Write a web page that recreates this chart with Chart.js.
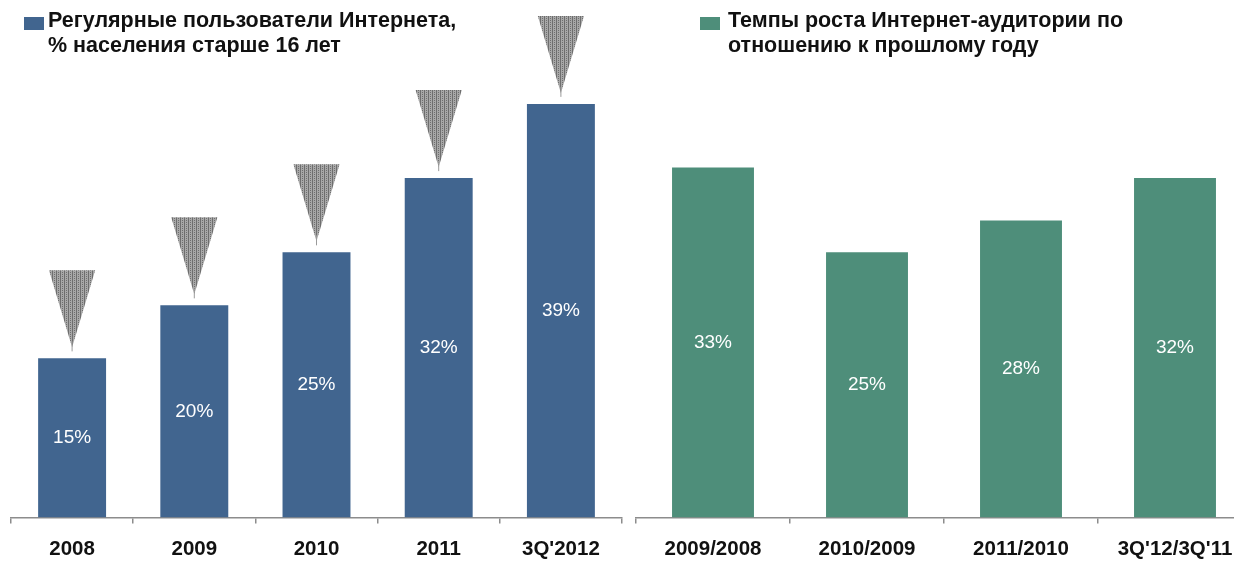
<!DOCTYPE html>
<html>
<head>
<meta charset="utf-8">
<script src="https://cdn.jsdelivr.net/npm/chart.js@4"></script>
<style>
    html, body { margin: 0; padding: 0; background: #fff; overflow: hidden; }
    body { width: 1234px; height: 562px; position: relative; font-family: "Liberation Sans", Arial, sans-serif; }
    .box { position: absolute; top: 0; height: 562px; }
    .legend { position: absolute; font-weight: bold; font-size: 21.5px; line-height: 25px; color: #111; white-space: nowrap; }
    .swatch { position: absolute; width: 20px; height: 13px; }
</style>
</head>
<body>
<div class="box" style="left:0;width:630px"><canvas id="usersChart" width="630" height="562"></canvas></div>
<div class="box" style="left:628px;width:630px"><canvas id="growthChart" width="630" height="562"></canvas></div>

<div class="swatch" style="left:24px;top:17px;background:#41658f"></div>
<div class="legend" style="left:48px;top:8px">Регулярные пользователи Интернета,<br>% населения старше 16 лет</div>
<div class="swatch" style="left:700px;top:17px;background:#4e8e7a"></div>
<div class="legend" style="left:728px;top:8px">Темпы роста Интернет-аудитории по<br>отношению к прошлому году</div>

<script>
const usersLabels = ["2008", "2009", "2010", "2011", "3Q'2012"];
const usersValues = [15, 20, 25, 32, 39];
const growthLabels = ["2009/2008", "2010/2009", "2011/2010", "3Q'12/3Q'11"];
const growthValues = [33, 25, 28, 32];

const blue = "#41658f";
const green = "#4e8e7a";
const axisGrey = "#8c8c8c";

// dotted grey fill for the arrows above the bars
function makeDotPattern(ctx) {
    const p = document.createElement("canvas");
    p.width = 4;
    p.height = 2;
    const pc = p.getContext("2d");
    pc.fillStyle = "#a8a8a8";
    pc.fillRect(0, 0, 4, 2);
    pc.fillStyle = "#6e6e6e";
    pc.fillRect(0, 0, 1, 2);
    pc.fillRect(2, 0, 1, 1);
    return ctx.createPattern(p, "repeat");
}

const valueLabels = {
    id: "valueLabels",
    afterDatasetsDraw(chart) {
        const ctx = chart.ctx;
        const meta = chart.getDatasetMeta(0);
        ctx.save();
        ctx.fillStyle = "#ffffff";
        ctx.font = "19px 'Liberation Sans', Arial, sans-serif";
        ctx.textAlign = "center";
        ctx.textBaseline = "middle";
        meta.data.forEach(function (bar, i) {
            const v = chart.data.datasets[0].data[i];
            ctx.fillText(v + "%", bar.x, (bar.y + bar.base) / 2);
        });
        ctx.restore();
    }
};

const arrows = {
    id: "arrows",
    afterDatasetsDraw(chart, args, opts) {
        if (!opts.show) return;
        const ctx = chart.ctx;
        const meta = chart.getDatasetMeta(0);
        const pattern = makeDotPattern(ctx);
        ctx.save();
        meta.data.forEach(function (bar) {
            const half = bar.width * 0.34;
            const tip = bar.y - 11;
            const top = tip - 77;
            ctx.beginPath();
            ctx.moveTo(bar.x - half, top);
            ctx.lineTo(bar.x + half, top);
            ctx.lineTo(bar.x, tip);
            ctx.closePath();
            ctx.fillStyle = pattern;
            ctx.fill();
            ctx.strokeStyle = "#9a9a9a";
            ctx.lineWidth = 1;
            ctx.beginPath();
            ctx.moveTo(bar.x, tip - 6);
            ctx.lineTo(bar.x, tip + 4);
            ctx.stroke();
        });
        ctx.restore();
    }
};

function renderChart(canvasId, labels, values, color, barPct, padLeft, padRight, showArrows) {
    const ctx = document.getElementById(canvasId);
    return new Chart(ctx.getContext("2d"), {
        type: "bar",
        data: {
            labels: labels,
            datasets: [{ data: values, backgroundColor: color, barPercentage: barPct, categoryPercentage: 1 }]
        },
        options: {
            responsive: false,
            animation: false,
            layout: { padding: { left: padLeft, right: padRight, top: 0, bottom: -14 } },
            scales: {
                x: {
                    offset: true,
                    grid: { display: true, drawOnChartArea: false, drawTicks: true, tickLength: 6, color: axisGrey, lineWidth: 1.5 },
                    border: { display: true, color: axisGrey, width: 1.5 },
                    ticks: {
                        color: "#111",
                        padding: 14,
                        font: { family: "'Liberation Sans', Arial, sans-serif", size: 20.5, weight: "bold" }
                    }
                },
                y: { display: false, min: 0, max: 48.8 }
            },
            plugins: {
                legend: { display: false },
                tooltip: { enabled: false },
                arrows: { show: showArrows }
            }
        },
        plugins: [valueLabels, arrows]
    });
}

renderChart("usersChart", usersLabels, usersValues, blue, 0.556, 11, 8, true);
renderChart("growthChart", growthLabels, growthValues, green, 0.532, 8, 6, false);
</script>
</body>
</html>
